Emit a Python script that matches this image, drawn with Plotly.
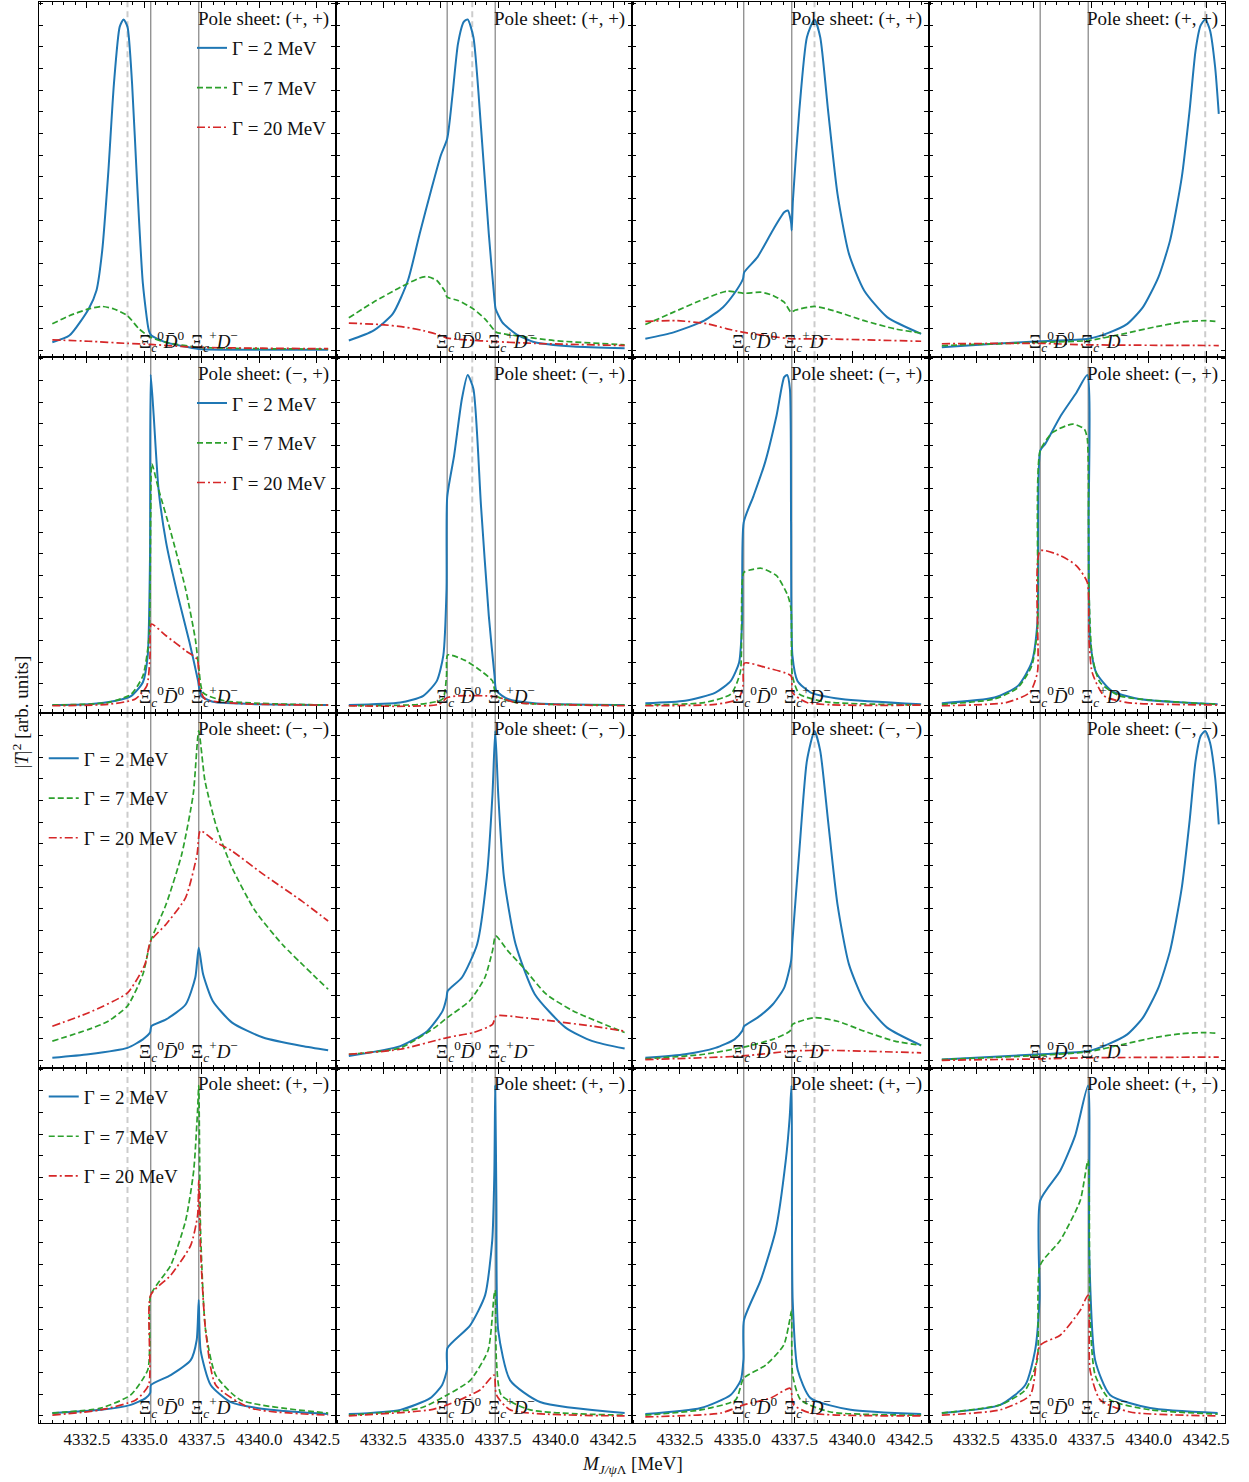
import plotly.graph_objects as go
from plotly.subplots import make_subplots

# ---------------- data (|T|^2, arb. units) ----------------
thr_neutral = 4335.28   # Xi_c^0 Dbar^0 threshold [MeV]
thr_charged = 4337.37   # Xi_c^+ D^- threshold [MeV]
pole_mass = [4334.27, 4336.37, 4338.36, 4342.46]   # dashed line per column
sheet_labels = ["(+, +)", "(−, +)", "(−, −)", "(+, −)"]
gamma_labels = ["Γ = 2 MeV", "Γ = 7 MeV", "Γ = 20 MeV"]
x_ticks = [4332.5, 4335.0, 4337.5, 4340.0, 4342.5]

# ---- row 1: pole sheet (+,+)
r1c1_g2 = [(4331.0, 4.2), (4331.74, 6.1), (4332.58, 13.6), (4332.92, 18.8), (4333.17, 30), (4333.43, 51.6),
           (4333.68, 77), (4333.93, 93), (4334.10, 95.1), (4334.27, 93), (4334.47, 77), (4334.69, 48.8),
           (4334.94, 20.7), (4335.20, 7.5), (4335.31, 6.1), (4335.95, 4.2), (4337.37, 2.3), (4338.48, 2.1),
           (4343.0, 2.1)]
r1c1_g7 = [(4331.0, 9.4), (4331.74, 11.7), (4332.58, 13.6), (4333.17, 14.3), (4333.68, 13.6), (4334.27, 11.7),
           (4334.77, 8.0), (4335.28, 5.6), (4335.95, 4.2), (4337.37, 2.8), (4343.0, 2.3)]
r1c1_g20 = [(4331.0, 4.9), (4332.58, 4.5), (4334.27, 3.9), (4335.28, 3.6), (4337.37, 2.8), (4343.0, 2.4)]

r1c2_g2 = [(4331.0, 4.7), (4332.07, 7.5), (4332.91, 12.2), (4333.57, 21.6), (4334.08, 34.7), (4334.58, 47),
           (4335.00, 56.8), (4335.28, 61.5), (4335.50, 73.2), (4335.75, 88.3), (4336.00, 94.4), (4336.17, 95.1),
           (4336.42, 90.1), (4336.75, 64.8), (4337.09, 34.7), (4337.34, 16), (4337.39, 13.6), (4337.67, 9.9),
           (4338.26, 6.6), (4339.09, 4.2), (4340.76, 3.0), (4343.0, 2.5)]
r1c2_g7 = [(4331.0, 11.1), (4332.07, 15.5), (4333.24, 19.7), (4334.08, 22.3), (4334.41, 22.7), (4334.83, 21.6),
           (4335.16, 18.8), (4335.28, 16.9), (4335.75, 16), (4336.42, 13.6), (4336.92, 10.8), (4337.34, 7.5),
           (4337.42, 7.0), (4338.26, 6.1), (4339.93, 4.7), (4343.0, 3.5)]
r1c2_g20 = [(4331.0, 9.6), (4332.40, 9.2), (4333.41, 8.5), (4334.24, 7.5), (4334.91, 6.3), (4335.28, 5.4),
            (4336.08, 4.9), (4337.37, 4.4), (4339.09, 3.9), (4343.0, 3.3)]

r1c3_g2 = [(4331.0, 5.2), (4332.23, 7.0), (4333.56, 10.3), (4334.38, 14.1), (4334.96, 18.8), (4335.25, 22.1),
           (4335.30, 23.9), (4335.88, 28.2), (4336.54, 35.7), (4337.04, 40.8), (4337.20, 41.3), (4337.34, 38),
           (4337.37, 35.7), (4337.42, 44.1), (4337.70, 69.5), (4338.03, 90.1), (4338.36, 95.1), (4338.61, 90.1),
           (4338.95, 69.5), (4339.36, 46), (4339.86, 29.1), (4340.52, 18.8), (4341.52, 11.3), (4343.0, 6.6)]
r1c3_g7 = [(4331.0, 9.2), (4332.23, 12.7), (4333.56, 16.4), (4334.55, 18.6), (4335.28, 18.0), (4336.04, 18.3),
           (4336.54, 17.4), (4337.04, 15.5), (4337.34, 12.7), (4337.54, 13.3), (4338.36, 14.3), (4339.19, 13.1),
           (4340.52, 10.3), (4341.85, 8.0), (4343.0, 6.8)]
r1c3_g20 = [(4331.0, 10.1), (4332.39, 10.3), (4333.72, 9.4), (4334.55, 8.0), (4335.28, 7.0), (4336.54, 5.8),
            (4337.37, 5.2), (4338.53, 5.2), (4343.0, 4.5)]

r1c4_g2 = [(4331.0, 2.8), (4333.29, 3.8), (4335.28, 4.5), (4337.37, 5.2), (4338.22, 6.8), (4339.07, 9.4),
           (4339.75, 14.1), (4340.42, 22.5), (4340.93, 32.9), (4341.44, 50.7), (4341.78, 69.5), (4342.04, 86.4),
           (4342.26, 93.4), (4342.46, 95.1), (4342.67, 92), (4342.89, 81.7), (4343.05, 68.5)]
r1c4_g7 = [(4331.0, 3.3), (4335.28, 4.2), (4337.37, 4.7), (4338.90, 6.6), (4340.25, 8.5), (4341.44, 9.9),
           (4342.46, 10.3), (4343.05, 10.0)]
r1c4_g20 = [(4331.0, 3.8), (4335.28, 3.9), (4337.37, 3.5), (4343.05, 3.3)]

# ---- row 2: pole sheet (-,+)
r2c1_g2 = [(4331.0, 2.1), (4332.58, 2.3), (4333.76, 3.3), (4334.44, 4.7), (4334.94, 8.5), (4335.15, 16),
           (4335.25, 44), (4335.28, 95.1), (4335.41, 83.6), (4335.62, 62.9), (4335.95, 47.9), (4336.46, 32.9),
           (4336.97, 19.7), (4337.34, 8.9), (4337.47, 4.7), (4337.98, 3.0), (4340.17, 2.3), (4343.0, 2.1)]
r2c1_g7 = [(4331.0, 2.1), (4333.43, 2.8), (4334.44, 5.2), (4334.94, 10.3), (4335.20, 20.7), (4335.28, 55.4),
           (4335.33, 70), (4335.62, 62.9), (4336.12, 51.6), (4336.80, 34.7), (4337.22, 20.7), (4337.37, 12.7),
           (4337.56, 5.6), (4338.48, 3.3), (4343.0, 2.1)]
r2c1_g20 = [(4331.0, 1.9), (4333.43, 2.3), (4334.61, 3.8), (4335.11, 7.5), (4335.25, 16), (4335.31, 24.9),
            (4335.95, 21.6), (4336.80, 17.4), (4337.30, 15), (4337.40, 7.5), (4337.64, 3.8), (4343.0, 2.1)]

r2c2_g2 = [(4331.0, 2.1), (4333.24, 2.8), (4334.24, 4.7), (4334.83, 8.9), (4335.11, 16), (4335.25, 34.7),
           (4335.28, 60.6), (4335.58, 72.3), (4335.92, 88.3), (4336.17, 95), (4336.42, 91.1), (4336.75, 58.2),
           (4337.09, 27.2), (4337.34, 10.3), (4337.42, 6.1), (4337.92, 3.8), (4339.09, 2.6), (4343.0, 2.1)]
r2c2_g7 = [(4331.0, 1.9), (4334.08, 2.3), (4335.08, 3.8), (4335.25, 10.3), (4335.30, 16.2), (4336.08, 14.6),
           (4336.75, 11.7), (4337.25, 8.9), (4337.42, 4.7), (4338.26, 2.8), (4343.0, 2.1)]
r2c2_g20 = [(4331.0, 1.9), (4334.91, 2.3), (4335.28, 4.2), (4335.75, 4.7), (4337.37, 4.5), (4338.26, 2.8),
            (4343.0, 1.9)]

r2c3_g2 = [(4331.0, 2.6), (4332.73, 3.3), (4334.05, 5.6), (4334.72, 8.9), (4335.08, 14.1), (4335.21, 25.4),
           (4335.28, 53.5), (4335.71, 61), (4336.21, 70.4), (4336.71, 83.6), (4337.04, 94.4), (4337.17, 95),
           (4337.29, 91.1), (4337.34, 53.5), (4337.40, 16), (4337.62, 8.9), (4338.20, 5.6), (4339.53, 3.8),
           (4343.0, 2.3)]
r2c3_g7 = [(4331.0, 2.1), (4333.56, 2.8), (4334.72, 5.2), (4335.13, 11.3), (4335.28, 39.4), (4335.55, 40.1),
           (4336.04, 40.6), (4336.71, 38.5), (4337.20, 32.9), (4337.34, 29.1), (4337.40, 10.3), (4337.70, 5.2),
           (4338.86, 3.0), (4343.0, 2.1)]
r2c3_g20 = [(4331.0, 1.9), (4334.05, 2.3), (4335.05, 3.8), (4335.25, 7.5), (4335.31, 13.9), (4336.21, 12.7),
            (4337.34, 10.3), (4337.40, 5.6), (4338.03, 2.8), (4343.0, 2.1)]

r2c4_g2 = [(4331.0, 2.6), (4333.29, 4.2), (4334.31, 7.5), (4334.91, 14.1), (4335.16, 25.4), (4335.28, 73.7),
           (4335.50, 75.6), (4336.18, 83.6), (4336.86, 90.1), (4337.33, 95), (4337.39, 53.5), (4337.45, 20.7),
           (4337.71, 11.3), (4338.39, 6.1), (4339.58, 3.8), (4343.0, 2.3)]
r2c4_g7 = [(4331.0, 2.3), (4333.29, 3.8), (4334.31, 7.0), (4334.91, 13.1), (4335.16, 23.5), (4335.28, 73.7),
           (4335.84, 78.9), (4336.69, 81.2), (4337.20, 79.8), (4337.33, 77), (4337.40, 34.7), (4337.54, 16),
           (4337.88, 8.5), (4338.73, 4.7), (4343.0, 2.3)]
r2c4_g20 = [(4331.0, 1.9), (4333.80, 2.8), (4334.82, 5.6), (4335.16, 11.3), (4335.28, 45.5), (4336.18, 44.1),
            (4336.86, 41.3), (4337.33, 36.6), (4337.40, 20.7), (4337.54, 11.3), (4338.05, 4.7), (4339.07, 2.8),
            (4343.0, 2.1)]

# ---- row 3: pole sheet (-,-)
r3c1_g2 = [(4331.0, 2.8), (4332.58, 3.8), (4334.27, 5.6), (4334.94, 8.0), (4335.25, 9.9), (4335.31, 11.7),
           (4335.95, 13.6), (4336.80, 17.8), (4337.22, 25.4), (4337.37, 33.8), (4337.56, 26.3), (4337.98, 18.8),
           (4338.82, 12.7), (4340.17, 8.5), (4341.86, 6.1), (4343.0, 4.9)]
r3c1_g7 = [(4331.0, 7.5), (4332.58, 10.8), (4333.43, 13.1), (4334.27, 17.4), (4334.94, 26.3), (4335.28, 35.7),
           (4335.95, 46), (4336.63, 60.1), (4337.13, 77), (4337.37, 94.8), (4337.64, 80.8), (4338.15, 67.6),
           (4338.82, 56.3), (4339.83, 44.1), (4341.01, 34.7), (4343.0, 22.1)]
r3c1_g20 = [(4331.0, 11.7), (4332.58, 15.5), (4334.27, 21.1), (4335.03, 29.1), (4335.28, 35.7), (4335.95, 40.4),
            (4336.80, 47.9), (4337.30, 60.1), (4337.44, 66.7), (4338.15, 63.4), (4338.82, 61), (4340.17, 54.5),
            (4341.86, 46.9), (4343.0, 41.3)]

r3c2_g2 = [(4331.0, 3.3), (4333.24, 6.1), (4334.41, 10.3), (4335.08, 16), (4335.25, 19.7), (4335.30, 21.6),
           (4335.92, 25.4), (4336.58, 34.7), (4337.00, 53.5), (4337.25, 77), (4337.37, 94.8), (4337.50, 77),
           (4337.75, 53.5), (4338.26, 34.7), (4339.09, 20.7), (4340.43, 11.3), (4341.60, 7.5), (4343.0, 5.4)]
r3c2_g7 = [(4331.0, 3.8), (4333.24, 5.6), (4334.74, 11.3), (4335.28, 14.1), (4336.25, 18.8), (4336.92, 25.4),
           (4337.25, 32.9), (4337.39, 37.1), (4337.92, 32.9), (4338.59, 28.2), (4339.59, 20.7), (4340.76, 16),
           (4343.0, 9.9)]
r3c2_g20 = [(4331.0, 3.8), (4333.24, 5.2), (4335.28, 8.5), (4336.42, 9.9), (4337.25, 12.2), (4337.42, 14.6),
            (4338.59, 14.1), (4339.93, 13.1), (4341.60, 11.7), (4343.0, 10.3)]

r3c3_g2 = [(4331.0, 2.8), (4332.73, 3.8), (4334.05, 5.6), (4334.88, 8.0), (4335.21, 10.3), (4335.30, 11.7),
           (4335.88, 14.1), (4336.54, 17.8), (4337.04, 22.5), (4337.34, 30), (4337.40, 35.7), (4337.70, 61),
           (4338.03, 86.4), (4338.36, 94.8), (4338.61, 89.2), (4338.95, 69.5), (4339.36, 46), (4339.86, 29.1),
           (4340.52, 18.8), (4341.52, 11.3), (4343.0, 6.3)]
r3c3_g7 = [(4331.0, 2.5), (4333.56, 3.8), (4335.28, 5.8), (4336.54, 8.0), (4337.29, 10.3), (4337.40, 12.2),
           (4338.36, 14.1), (4339.36, 13.1), (4340.52, 10.3), (4341.85, 7.5), (4343.0, 6.3)]
r3c3_g20 = [(4331.0, 2.3), (4335.21, 3.3), (4337.37, 4.7), (4338.86, 4.9), (4343.0, 4.2)]

r3c4_g2 = [(4331.0, 2.3), (4335.28, 3.8), (4337.37, 4.7), (4338.22, 6.6), (4339.07, 9.4), (4339.75, 14.1),
           (4340.42, 22.5), (4340.93, 32.9), (4341.44, 50.7), (4341.78, 69.5), (4342.04, 86.4), (4342.26, 93.4),
           (4342.46, 94.8), (4342.67, 91.5), (4342.89, 81.7), (4343.05, 68.5)]
r3c4_g7 = [(4331.0, 2.3), (4335.28, 3.5), (4337.37, 4.5), (4338.90, 6.6), (4340.25, 8.5), (4341.44, 9.6),
           (4342.46, 9.9), (4343.05, 9.7)]
r3c4_g20 = [(4331.0, 2.1), (4335.28, 2.5), (4337.37, 2.8), (4343.05, 3.0)]

# ---- row 4: pole sheet (+,-)
r4c1_g2 = [(4331.0, 2.8), (4333.11, 3.7), (4334.41, 5.1), (4335.06, 7.0), (4335.26, 8.5), (4335.29, 10.7),
           (4336.15, 13.5), (4337.02, 17.7), (4337.28, 23.3), (4337.37, 34.6), (4337.45, 20.5), (4337.89, 10.7),
           (4338.76, 5.9), (4340.50, 3.7), (4343.0, 2.5)]
r4c1_g7 = [(4331.0, 2.8), (4333.11, 4.2), (4334.41, 7.9), (4335.15, 14.9), (4335.24, 22), (4335.28, 36),
           (4336.15, 44.4), (4336.80, 57), (4337.15, 71), (4337.32, 88), (4337.37, 95), (4337.45, 54),
           (4337.67, 26), (4338.11, 13.5), (4339.19, 6.5), (4343.0, 2.8)]
r4c1_g20 = [(4331.0, 2.2), (4333.11, 3.7), (4334.63, 6.5), (4335.19, 10.7), (4335.28, 36), (4336.15, 41.6),
            (4337.02, 50), (4337.32, 58.4), (4337.37, 68.3), (4337.45, 48.6), (4337.67, 26), (4338.11, 10.7),
            (4339.63, 4.2), (4343.0, 2.2)]

r4c2_g2 = [(4331.0, 2.5), (4333.24, 3.7), (4334.54, 7.0), (4335.06, 10.7), (4335.27, 15), (4335.29, 21.1),
           (4336.28, 27.5), (4336.93, 36), (4337.24, 51.4), (4337.33, 70), (4337.37, 95), (4337.42, 62.6),
           (4337.50, 26), (4338.02, 12), (4339.32, 5.9), (4343.0, 2.8)]
r4c2_g7 = [(4331.0, 2.2), (4334.11, 4.2), (4335.28, 7.9), (4336.28, 12), (4337.06, 20.5), (4337.32, 36),
           (4337.37, 37.4), (4337.42, 17.7), (4337.63, 7.9), (4338.89, 3.7), (4343.0, 2.2)]
r4c2_g20 = [(4331.0, 2.0), (4334.54, 3.7), (4335.28, 5.1), (4336.71, 9.3), (4337.32, 13.5), (4337.42, 7.9),
            (4338.02, 3.7), (4343.0, 2.0)]

r4c3_g2 = [(4331.0, 2.5), (4333.41, 4.2), (4334.71, 7.9), (4335.15, 12), (4335.27, 18), (4335.29, 28.9),
           (4336.02, 40.2), (4336.67, 54.2), (4337.11, 73.9), (4337.28, 86), (4337.36, 95), (4337.41, 34.6),
           (4337.63, 14.9), (4338.19, 7.0), (4339.93, 3.7), (4343.0, 2.5)]
r4c3_g7 = [(4331.0, 2.2), (4333.41, 3.7), (4334.93, 6.5), (4335.28, 12.6), (4336.24, 16.3), (4337.02, 21.9),
           (4337.28, 28.9), (4337.36, 31.7), (4337.41, 13.5), (4337.76, 6.5), (4339.06, 3.1), (4343.0, 2.2)]
r4c3_g20 = [(4331.0, 1.7), (4334.28, 2.8), (4335.28, 5.1), (4336.45, 7.0), (4337.30, 9.8), (4337.45, 5.1),
            (4338.19, 2.8), (4343.0, 2.0)]

r4c4_g2 = [(4331.0, 2.8), (4333.54, 5.1), (4334.63, 10.7), (4335.06, 20.5), (4335.25, 35), (4335.28, 62.6),
           (4336.15, 71), (4336.80, 80.9), (4337.36, 95), (4337.41, 48.6), (4337.67, 17.7), (4338.32, 7.9),
           (4340.06, 4.2), (4343.0, 2.8)]
r4c4_g7 = [(4331.0, 2.8), (4333.54, 5.1), (4334.63, 9.3), (4335.15, 17.7), (4335.28, 44.4), (4336.15, 51.4),
           (4337.02, 62.6), (4337.36, 73.9), (4337.45, 28.9), (4337.67, 13.5), (4338.32, 6.5), (4340.06, 3.7),
           (4343.0, 2.5)]
r4c4_g20 = [(4331.0, 2.2), (4333.54, 3.7), (4334.85, 7.9), (4335.28, 21.9), (4336.15, 24.7), (4337.02, 31.7),
            (4337.36, 36), (4337.45, 14.9), (4337.89, 6.5), (4339.19, 3.1), (4343.0, 2.0)]

curves = {
    (1, 1): [r1c1_g2, r1c1_g7, r1c1_g20], (1, 2): [r1c2_g2, r1c2_g7, r1c2_g20],
    (1, 3): [r1c3_g2, r1c3_g7, r1c3_g20], (1, 4): [r1c4_g2, r1c4_g7, r1c4_g20],
    (2, 1): [r2c1_g2, r2c1_g7, r2c1_g20], (2, 2): [r2c2_g2, r2c2_g7, r2c2_g20],
    (2, 3): [r2c3_g2, r2c3_g7, r2c3_g20], (2, 4): [r2c4_g2, r2c4_g7, r2c4_g20],
    (3, 1): [r3c1_g2, r3c1_g7, r3c1_g20], (3, 2): [r3c2_g2, r3c2_g7, r3c2_g20],
    (3, 3): [r3c3_g2, r3c3_g7, r3c3_g20], (3, 4): [r3c4_g2, r3c4_g7, r3c4_g20],
    (4, 1): [r4c1_g2, r4c1_g7, r4c1_g20], (4, 2): [r4c2_g2, r4c2_g7, r4c2_g20],
    (4, 3): [r4c3_g2, r4c3_g7, r4c3_g20], (4, 4): [r4c4_g2, r4c4_g7, r4c4_g20],
}

# ---------------- styling ----------------
FONT = "Liberation Serif"
colors = ["#1f77b4", "#2ca02c", "#d62728"]
dashes = ["solid", "6px,3px", "8px,3px,2px,3px"]
lwidths = [2.0, 1.7, 1.7]
X_RANGE = [4330.42, 4343.32]
Y_RANGE = [0, 100]
TXT = dict(family=FONT, size=19, color="#111")

fig = make_subplots(rows=4, cols=4, horizontal_spacing=0, vertical_spacing=0)

for r in range(1, 5):
    for c in range(1, 5):
        for k, pts in enumerate(curves[(r, c)]):
            xs = [p[0] for p in pts]
            ys = [p[1] for p in pts]
            fig.add_trace(go.Scatter(
                x=xs, y=ys, mode="lines", name=gamma_labels[k],
                line=dict(color=colors[k], width=lwidths[k], dash=dashes[k], shape="spline", smoothing=0.6),
                showlegend=(c == 1), legend=("legend" if r == 1 else f"legend{r}"),
                legendgroup=f"r{r}g{k}", hoverinfo="skip"), row=r, col=c)
        for t in (thr_neutral, thr_charged):
            fig.add_vline(x=t, line=dict(color="rgba(128,128,128,0.85)", width=1.4),
                          layer="below", row=r, col=c)
        fig.add_vline(x=pole_mass[c - 1], line=dict(color="#cccccc", width=2, dash="6px,4px"),
                      layer="below", row=r, col=c)
        idx = (r - 1) * 4 + c
        xref = "x" if idx == 1 else f"x{idx}"
        yref = ("y" if idx == 1 else f"y{idx}") + " domain"
        fig.add_annotation(x=X_RANGE[1], y=0.99, xref=xref, yref=yref, xanchor="right", yanchor="top",
                           xshift=-5, text="Pole sheet: " + sheet_labels[r - 1], showarrow=False, font=TXT)
        fig.add_annotation(x=thr_neutral - 0.58, y=0.045, xref=xref, yref=yref, xanchor="left", yanchor="middle",
                           text="Ξ<sub><i>c</i></sub><sup>0</sup><i>D̄</i><sup>0</sup>", showarrow=False, font=TXT)
        fig.add_annotation(x=thr_charged - 0.42, y=0.045, xref=xref, yref=yref, xanchor="left", yanchor="middle",
                           text="Ξ<sub><i>c</i></sub><sup>+</sup><i>D</i><sup>−</sup>", showarrow=False, font=TXT)

axis_common = dict(showline=True, linecolor="black", linewidth=1.3, mirror="ticks", ticks="inside",
                   showgrid=False, zeroline=False)
fig.update_xaxes(range=X_RANGE, tickvals=x_ticks, tickformat=".1f", ticklen=6, tickcolor="black",
                 minor=dict(dtick=0.5, tick0=4330.0, ticks="inside", ticklen=3, tickcolor="black"),
                 tickfont=dict(family=FONT, size=17, color="#111"), **axis_common)
fig.update_xaxes(showticklabels=False)
for c in range(1, 5):
    fig.update_xaxes(showticklabels=True, row=4, col=c)
fig.update_yaxes(range=Y_RANGE, showticklabels=False, dtick=6.1, tick0=2.0, ticklen=4, tickcolor="black",
                 **axis_common)

legend_common = dict(bgcolor="rgba(0,0,0,0)", font=TXT, tracegroupgap=12, itemwidth=30,
                     xanchor="left", yanchor="top")
fig.update_layout(
    width=1249, height=1482,
    margin=dict(l=39, r=24, t=2, b=59),
    plot_bgcolor="white", paper_bgcolor="white",
    legend=dict(x=0.129, y=0.981, **legend_common),
    legend2=dict(x=0.129, y=0.731, **legend_common),
    legend3=dict(x=0.004, y=0.481, **legend_common),
    legend4=dict(x=0.004, y=0.243, **legend_common),
)

fig.add_annotation(x=0.5, y=-0.0296, xref="paper", yref="paper", yanchor="middle", showarrow=False,
                   text="<i>M</i><sub><i>J/ψ</i>Λ</sub> [MeV]", font=TXT)
fig.add_annotation(x=-0.016, y=0.5, xref="paper", yref="paper", xanchor="center", yanchor="middle",
                   showarrow=False, textangle=-90,
                   text="|<i>T</i>|<sup>2</sup> [arb. units]", font=TXT)

fig.write_html("out.html")
